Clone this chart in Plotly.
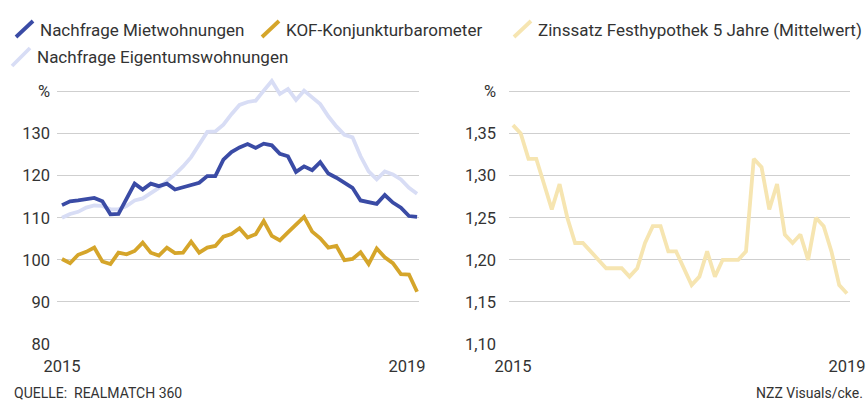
import plotly.graph_objects as go

# ---------------- data ----------------
idx_left = list(range(45))
nachfrage_miet = [113.0, 113.9, 114.1, 114.4, 114.7, 113.9, 110.8, 110.9, 114.6, 118.1,
                  116.7, 118.1, 117.5, 118.1, 116.7, 117.3, 117.7, 118.3, 119.9, 119.9,
                  123.8, 125.6, 126.7, 127.5, 126.6, 127.6, 127.2, 125.2, 124.6, 120.9,
                  122.2, 121.3, 123.2, 120.5, 119.5, 118.3, 117.1, 114.1, 113.8, 113.3,
                  115.4, 113.6, 112.4, 110.4, 110.2]
kof = [100.2, 99.2, 101.2, 101.9, 102.9, 99.6, 99.0, 101.7, 101.3, 102.1,
       104.1, 101.7, 101.0, 102.9, 101.6, 101.7, 104.3, 101.7, 102.9, 103.3,
       105.5, 106.1, 107.5, 105.3, 106.1, 109.2, 105.7, 104.6, 106.5, 108.3,
       110.2, 106.7, 105.1, 102.9, 103.3, 99.9, 100.2, 101.8, 99.0, 102.7,
       100.6, 99.2, 96.6, 96.5, 92.4]
nachfrage_eigentum = [110.0, 110.9, 111.4, 112.4, 112.9, 112.8, 112.0, 112.0, 112.8, 114.1,
                      114.6, 115.9, 117.1, 118.7, 120.3, 122.2, 124.4, 127.4, 130.4, 130.5,
                      132.1, 134.6, 136.8, 137.5, 137.8, 140.2, 142.5, 139.4, 140.6, 138.0,
                      140.2, 138.6, 137.0, 134.1, 131.7, 129.7, 129.1, 124.6, 121.0, 119.1,
                      121.0, 120.3, 119.1, 117.1, 115.7]

idx_right = list(range(44))
zinssatz = [1.36, 1.35, 1.32, 1.32, 1.29, 1.26, 1.29, 1.25, 1.22, 1.22,
            1.21, 1.20, 1.19, 1.19, 1.19, 1.18, 1.19, 1.22, 1.24, 1.24,
            1.21, 1.21, 1.19, 1.17, 1.18, 1.21, 1.18, 1.20, 1.20, 1.20,
            1.21, 1.32, 1.31, 1.26, 1.29, 1.23, 1.22, 1.23, 1.20, 1.25,
            1.24, 1.21, 1.17, 1.16]

left_yticks = [80, 90, 100, 110, 120, 130, 140]
left_ytext = ["80", "90", "100", "110", "120", "130", "%"]
right_yticks = [1.10, 1.15, 1.20, 1.25, 1.30, 1.35, 1.40]
right_ytext = ["1,10", "1,15", "1,20", "1,25", "1,30", "1,35", "%"]
x_ticktext = ["2015", "2019"]

# ---------------- style ----------------
W, H = 868, 405
FONT = "Roboto, Liberation Sans, sans-serif"
TXT = "#333333"
C_MIET = "#3a4ba5"
C_KOF = "#d5a52a"
C_EIG = "#d8ddf5"
C_ZINS = "#f6e5b1"
GRID = "#cfcfcf"
LW = 3.8

def px(x):
    return x / W

def py(y):
    return 1 - y / H

fig = go.Figure()
fig.add_trace(go.Scatter(x=idx_left, y=nachfrage_eigentum, mode="lines",
                         line=dict(color=C_EIG, width=LW), name="Nachfrage Eigentumswohnungen",
                         xaxis="x", yaxis="y", showlegend=False))
fig.add_trace(go.Scatter(x=idx_left, y=kof, mode="lines",
                         line=dict(color=C_KOF, width=LW), name="KOF-Konjunkturbarometer",
                         xaxis="x", yaxis="y", showlegend=False))
fig.add_trace(go.Scatter(x=idx_left, y=nachfrage_miet, mode="lines",
                         line=dict(color=C_MIET, width=LW), name="Nachfrage Mietwohnungen",
                         xaxis="x", yaxis="y", showlegend=False))
fig.add_trace(go.Scatter(x=idx_right, y=zinssatz, mode="lines",
                         line=dict(color=C_ZINS, width=LW), name="Zinssatz Festhypothek 5 Jahre (Mittelwert)",
                         xaxis="x2", yaxis="y2", showlegend=False))

ydom = [py(344), py(78)]
axis_common = dict(showline=False, zeroline=False, ticks="", automargin=False,
                   tickfont=dict(family=FONT, size=16.5, color=TXT))
fig.update_layout(
    width=W, height=H,
    margin=dict(l=0, r=0, t=0, b=0, autoexpand=False),
    paper_bgcolor="white", plot_bgcolor="white",
    showlegend=False,
    xaxis=dict(domain=[px(57), px(419)], range=[-0.62, 44.24], showgrid=False,
               tickvals=[0, 42.75], ticktext=x_ticktext, anchor="y",
               ticklabelstandoff=10, **axis_common),
    yaxis=dict(domain=ydom, range=[80, 143.2], showgrid=True, gridcolor=GRID, gridwidth=1,
               tickvals=left_yticks, ticktext=left_ytext, anchor="x",
               ticklabelstandoff=6, **axis_common),
    xaxis2=dict(domain=[px(509), px(850)], range=[-0.51, 43.39], showgrid=False,
                tickvals=[0, 43], ticktext=x_ticktext, anchor="y2",
                ticklabelstandoff=10, **axis_common),
    yaxis2=dict(domain=ydom, range=[1.10, 1.416], showgrid=True, gridcolor=GRID, gridwidth=1,
                tickvals=right_yticks, ticktext=right_ytext, anchor="x2",
                ticklabelstandoff=12, **axis_common),
)

# ---------------- custom legend (diagonal strokes) ----------------
legend_items = [
    ("Nachfrage Mietwohnungen", C_MIET, 16, 37, 33, 21, 38, 30),
    ("KOF-Konjunkturbarometer", C_KOF, 262, 37, 279, 21, 284, 30),
    ("Zinssatz Festhypothek 5 Jahre (Mittelwert)", C_ZINS, 514, 37, 531, 21, 536, 30),
    ("Nachfrage Eigentumswohnungen", C_EIG, 12, 66, 30, 48, 35, 57),
]
shapes = []
annotations = []
for label, col, x0, y0, x1, y1, tx, ty in legend_items:
    shapes.append(dict(type="line", xref="paper", yref="paper",
                       x0=px(x0), y0=py(y0), x1=px(x1), y1=py(y1),
                       line=dict(color=col, width=LW)))
    annotations.append(dict(text=label, xref="paper", yref="paper", x=px(tx), y=py(ty),
                            xanchor="left", yanchor="middle", showarrow=False,
                            font=dict(family=FONT, size=17, color=TXT)))

annotations.append(dict(text="QUELLE:  REALMATCH 360", xref="paper", yref="paper",
                        x=px(12), y=py(393), xanchor="left", yanchor="middle", showarrow=False,
                        font=dict(family=FONT, size=14, color=TXT)))
annotations.append(dict(text="NZZ Visuals/cke.", xref="paper", yref="paper",
                        x=px(865), y=py(393), xanchor="right", yanchor="middle", showarrow=False,
                        font=dict(family=FONT, size=14, color=TXT)))

fig.update_layout(shapes=shapes, annotations=annotations)
fig.write_html("out.html", config={"displayModeBar": False},
               post_script="document.body.style.margin='0';document.body.style.padding='0';")
